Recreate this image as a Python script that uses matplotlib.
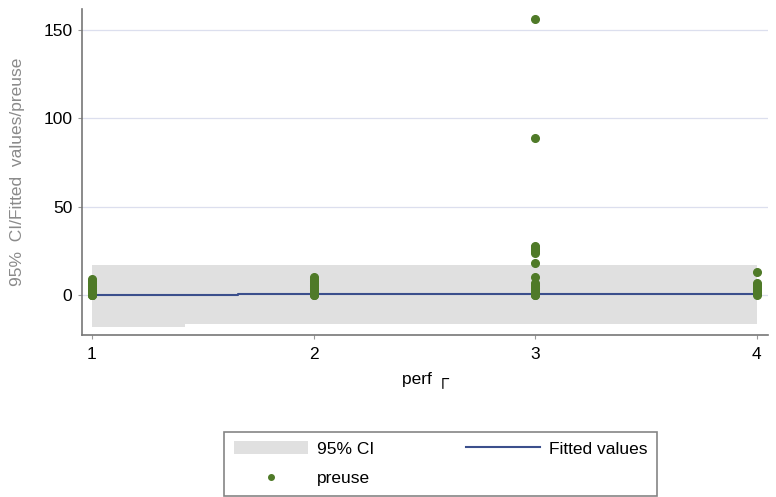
import numpy as np
import matplotlib.pyplot as plt
from matplotlib.patches import Patch
from matplotlib.lines import Line2D

plt.rcParams['font.family'] = ['Liberation Sans', 'DejaVu Sans']

# observed points (perf group, preuse)
perf_1 = [1] * 12
preuse_1 = [0, 0, 0, 1, 2, 3, 4, 5, 6, 7, 8, 9]
perf_2 = [2] * 12
preuse_2 = [0, 0, 1, 2, 3, 4, 5, 6, 7, 8, 9, 10]
perf_3 = [3] * 18
preuse_3 = [0, 0, 1, 2, 3, 4, 5, 6, 7, 10, 18, 24, 25, 26, 27, 28, 89, 156]
perf_4 = [4] * 9
preuse_4 = [0, 1, 2, 3, 4, 5, 6, 7, 13]

# fitted values and 95% CI
fit_x = [1, 1.66, 1.66, 4]
fit_y = [0, 0, 0.8, 0.8]
ci_x = [1, 1.42, 1.42, 4]
ci_lo = [-18, -18, -16.5, -16.5]
ci_hi = [16.9, 16.9, 16.9, 16.9]

x_ticks = [1, 2, 3, 4]
y_ticks = [0, 50, 100, 150]

fig = plt.figure(figsize=(7.76, 4.97), dpi=100)
ax = fig.add_axes([0.1057, 0.326, 0.884, 0.656])

green = '#4f7a28'
navy = '#3b4f8c'
ci_col = '#e0e0e0'

for yv in y_ticks:
    ax.axhline(yv, color='#dcdfee', lw=0.9, zorder=0)

ax.fill_between(ci_x, ci_lo, ci_hi, color=ci_col, lw=0, zorder=1)
ax.plot(fit_x, fit_y, color=navy, lw=1.5, zorder=2)

xs = perf_1 + perf_2 + perf_3 + perf_4
ys = preuse_1 + preuse_2 + preuse_3 + preuse_4
ax.plot(xs, ys, 'o', color=green, ms=5.5, mec=green, zorder=3)

ax.set_xlim(0.955, 4.05)
ax.set_ylim(-22.5, 161.8)
ax.set_xticks(x_ticks)
ax.set_yticks(y_ticks)
ax.tick_params(axis='both', labelsize=12.5, color='#999999', length=3)
ax.tick_params(axis='y', pad=4)
ax.tick_params(axis='x', pad=6)

for s in ['top', 'right']:
    ax.spines[s].set_visible(False)
for s in ['left', 'bottom']:
    ax.spines[s].set_color('#777777')
    ax.spines[s].set_linewidth(1.2)

ax.set_xlabel('perf \u250c', fontsize=12.5, labelpad=6)
ax.set_ylabel('95%  CI/Fitted  values/preuse', fontsize=12.5, color='#8a8a8a')
ax.yaxis.set_label_coords(-0.083, 0.5)

handles = [Patch(facecolor=ci_col, edgecolor='none'),
           Line2D([], [], marker='o', ls='none', color=green, ms=4),
           Line2D([], [], color=navy, lw=1.5)]
labels = ['95% CI', 'preuse', 'Fitted values']
leg = fig.legend(handles, labels, ncol=2, loc='lower left',
                 bbox_to_anchor=(0.2887, 0.002, 0.558, 0.135), mode='expand',
                 fontsize=12.5, frameon=True, fancybox=False, shadow=False,
                 handlelength=4.3, handletextpad=0.5, columnspacing=3,
                 borderaxespad=0, labelspacing=0.85, borderpad=0.55)
leg.get_frame().set_edgecolor('#666666')
leg.get_frame().set_linewidth(1.2)

fig.savefig('out.png', dpi=100)
